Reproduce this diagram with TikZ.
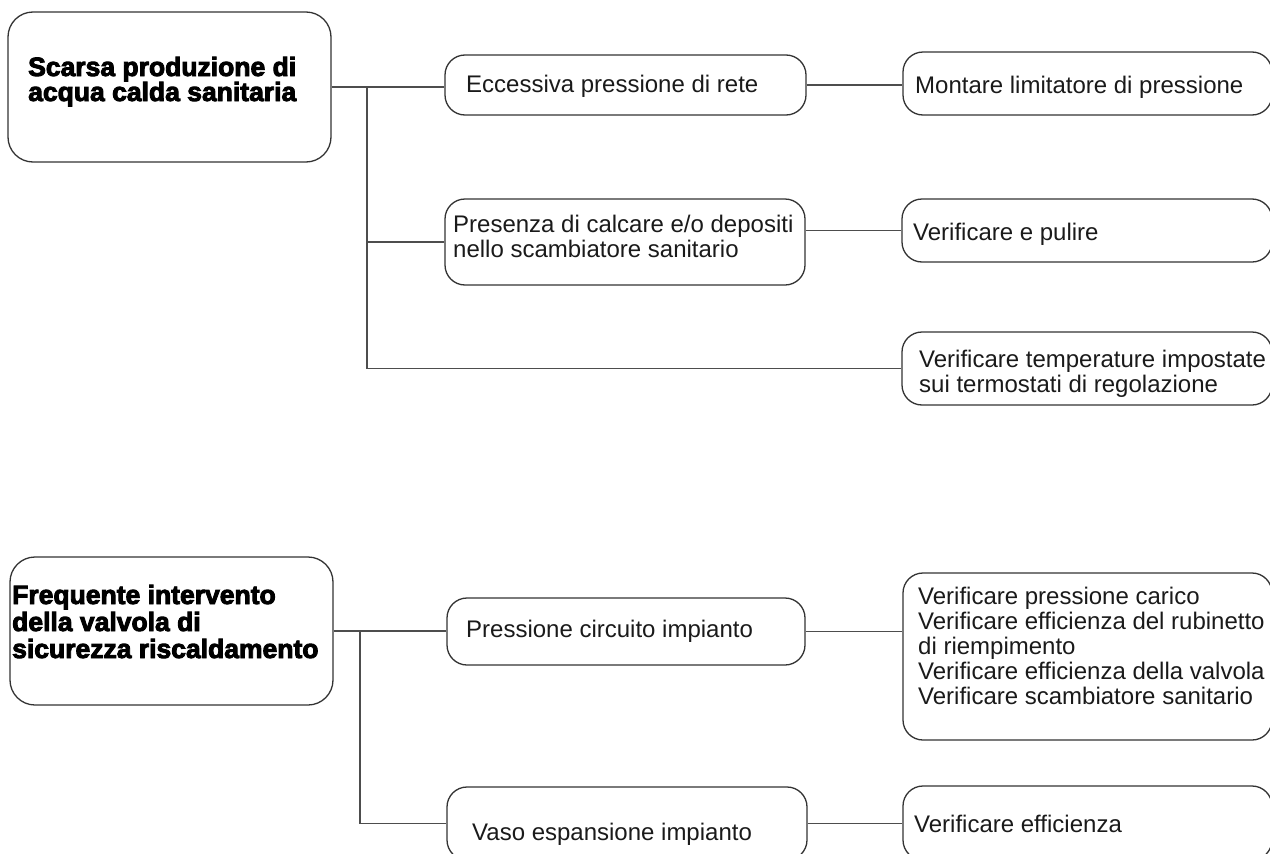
\documentclass[tikz,border=0pt]{standalone}
\usepackage{fontspec}
\setmainfont{Liberation Sans}
\newfontfamily\heavyfont[BoldFeatures={FakeBold=3.4}]{Liberation Sans}
\definecolor{bd}{HTML}{333333}
\definecolor{ln}{HTML}{4D4D4D}
\definecolor{tx}{HTML}{1A1A1A}
\begin{document}
\begin{tikzpicture}[x=1pt,y=-1pt,
  bigbox/.style={draw=bd, line width=1.3pt, rounded corners=25pt, inner sep=0pt},
  box/.style={draw=bd, line width=1.3pt, rounded corners=20pt, inner sep=0pt},
  wire/.style={draw=ln, line width=1.3pt},
  txt/.style={font=\fontsize{24}{25}\selectfont, text=tx, align=left, inner sep=0pt, anchor=base west},
  head/.style={font=\heavyfont\bfseries\fontsize{26.5}{25}\selectfont, text=black, align=left, inner sep=0pt, anchor=base west}]
\useasboundingbox (0,0) rectangle (1270,854);

% ---------- top group ----------
\node[bigbox, minimum width=323pt, minimum height=150pt] (A1) at (169.5,87) {};
\node[head] (A1t) at (28,101) {Scarsa produzione di\\acqua calda sanitaria};

\node[box, minimum width=361pt, minimum height=60pt] (B1) at (625.5,85) {};
\node[txt] (B1t) at (466,92) {Eccessiva pressione di rete};

\node[box, minimum width=369pt, minimum height=63pt] (C1) at (1087.5,83.5) {};
\node[txt] (C1t) at (915,93) {Montare limitatore di pressione};

\node[box, minimum width=360pt, minimum height=86pt] (B2) at (625,242) {};
\node[txt] (B2t) at (453,257) {Presenza di calcare e/o depositi\\nello scambiatore sanitario};

\node[box, minimum width=370pt, minimum height=63pt] (C2) at (1087,230.5) {};
\node[txt] (C2t) at (913,240) {Verificare e pulire};

\node[box, minimum width=370pt, minimum height=73pt] (C3) at (1087,368.5) {};
\node[txt] (C3t) at (919,392) {Verificare temperature impostate\\sui termostati di regolazione};

\coordinate (j1) at (367,87);
\draw[wire] (A1.east) -- (A1.east -| B1.west);
\draw[wire] (j1) |- (C3.west);
\draw[wire] (j1 |- B2.west) -- (B2.west);
\draw[wire] (B1.east) -- (B1.east -| C1.west);
\draw[wire] (C2.west -| B2.east) -- (C2.west);

% ---------- bottom group ----------
\node[bigbox, minimum width=323pt, minimum height=148pt] (A2) at (171.5,631) {};
\node[head, font=\heavyfont\bfseries\fontsize{26.5}{27}\selectfont] (A2t) at (12,658) {Frequente intervento\\della valvola di\\sicurezza riscaldamento};

\node[box, minimum width=358pt, minimum height=67pt] (B3) at (626,631.5) {};
\node[txt] (B3t) at (466,637) {Pressione circuito impianto};

\node[box, minimum width=369pt, minimum height=167pt] (C4) at (1087.5,656.5) {};
\node[txt] (C4t) at (918,704) {Verificare pressione carico\\Verificare efficienza del rubinetto\\di riempimento\\Verificare efficienza della valvola\\Verificare scambiatore sanitario};

\node[box, minimum width=360pt, minimum height=73pt] (B4) at (627,823.5) {};
\node[txt] (B4t) at (472,840) {Vaso espansione impianto};

\node[box, minimum width=369pt, minimum height=74pt] (C5) at (1087.5,823) {};
\node[txt] (C5t) at (914,832) {Verificare efficienza};

\coordinate (j2) at (360,632);
\draw[wire] (A2.east) -- (A2.east -| B3.west);
\draw[wire] (j2) |- (B4.west);
\draw[wire] (B3.east) -- (B3.east -| C4.west);
\draw[wire] (B4.east) -- (B4.east -| C5.west);
\end{tikzpicture}
\end{document}
